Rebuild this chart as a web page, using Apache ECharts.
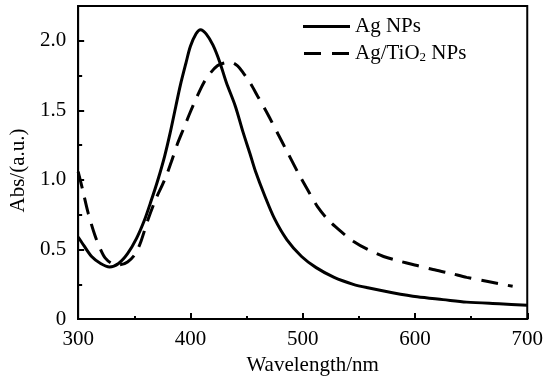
<!DOCTYPE html>
<html>
<head>
<meta charset="utf-8">
<script src="https://cdn.jsdelivr.net/npm/echarts@6/dist/echarts.min.js"></script>
<style>html,body{margin:0;padding:0;background:#fff;}#c{width:546px;height:381px;}</style>
</head>
<body>
<div id="c"></div>
<script>
const seriesNames = ['Ag NPs', 'Ag/TiO2 NPs'];
const agWavelength = [300,305,312,320,328,336,344,352,359,365,371,377,382,387,391,396,400,405,409,414,420,426,432,440,447,453,458,466,475,486,499,512,528,545,558,580,602,625,646,675,700];
const agAbs = [0.59,0.53,0.45,0.40,0.375,0.40,0.47,0.58,0.71,0.85,1.00,1.17,1.34,1.53,1.68,1.84,1.96,2.05,2.08,2.05,1.97,1.85,1.70,1.53,1.34,1.19,1.06,0.89,0.72,0.57,0.45,0.37,0.30,0.25,0.225,0.19,0.16,0.14,0.122,0.11,0.10];
const agTiWavelength = [300,304,309,315,320,324,330,337,344,351,356,362,369,377,383,388,394,400,406,412,418,424,430,436,442,447,453,460,469,478,487,496,505,513,523,534,545,558,572,587,602,616,631,646,665,687];
const agTiAbs = [1.06,0.93,0.76,0.60,0.50,0.44,0.40,0.39,0.41,0.47,0.56,0.71,0.86,1.00,1.13,1.25,1.37,1.49,1.60,1.70,1.77,1.82,1.84,1.845,1.82,1.77,1.70,1.60,1.47,1.33,1.19,1.05,0.92,0.81,0.71,0.63,0.56,0.50,0.45,0.415,0.385,0.356,0.33,0.30,0.27,0.236];
const xTicks = [300, 400, 500, 600, 700];
const yTicks = [0, 0.5, 1.0, 1.5, 2.0];
const xName = 'Wavelength/nm';
const yName = 'Abs/(a.u.)';

const FONT = 'Liberation Serif';
const zip = (xs, ys) => xs.map((x, i) => [x, ys[i]]);

const chart = echarts.init(document.getElementById('c'), null, {renderer: 'canvas'});
chart.setOption({
  animation: false,
  backgroundColor: '#fff',
  textStyle: {fontFamily: FONT, color: '#000'},
  grid: {left: 75, right: 18, top: 6, bottom: 61.5, show: true, borderColor: '#000', borderWidth: 2, backgroundColor: 'transparent'},
  legend: {
    orient: 'vertical', left: 303, top: 16, padding: 0, itemWidth: 47, itemHeight: 3, itemGap: 5.5,
    data: [
      {name: seriesNames[0], icon: 'path://M0,0H47V3H0Z'},
      {name: seriesNames[1], icon: 'path://M0,0H17V3H0ZM28,0H45V3H28Z'}
    ],
    itemStyle: {color: '#000', borderWidth: 0},
    formatter: function (n) {
      if (n === 'Ag/TiO2 NPs') return '{n|Ag/TiO}{s|2}{n| NPs}';
      return '{n|' + n + '}';
    },
    textStyle: {
      fontFamily: FONT, color: '#000', fontSize: 21,
      rich: {
        n: {fontFamily: FONT, fontSize: 21, color: '#000', lineHeight: 22},
        s: {fontFamily: FONT, fontSize: 13, color: '#000', lineHeight: 22, padding: [9, 0, 0, 0]}
      }
    }
  },
  xAxis: {
    type: 'value', min: xTicks[0], max: xTicks[xTicks.length - 1], interval: 100,
    name: xName, nameLocation: 'middle', nameGap: 31,
    nameTextStyle: {fontFamily: FONT, fontSize: 21, color: '#000', padding: [0, 0, 0, 20]},
    axisLine: {onZero: false, lineStyle: {color: '#000', width: 2}},
    axisTick: {inside: true, length: 6, lineStyle: {color: '#000', width: 2}},
    minorTick: {show: true, splitNumber: 2, length: 3, lineStyle: {color: '#000', width: 2}},
    splitLine: {show: false},
    axisLabel: {fontFamily: FONT, fontSize: 21, color: '#000', margin: 10}
  },
  yAxis: [{
    type: 'value', min: 0, max: 2.25, interval: 0.5,
    name: yName, nameLocation: 'middle', nameGap: 46,
    nameTextStyle: {fontFamily: FONT, fontSize: 21, color: '#000', padding: [0, 16, 0, 0]},
    axisLine: {onZero: false, lineStyle: {color: '#000', width: 2}},
    axisTick: {inside: true, length: 6, lineStyle: {color: '#000', width: 2}},
    splitLine: {show: false},
    axisLabel: {
      fontFamily: FONT, fontSize: 21, color: '#000', margin: 12, showMaxLabel: false,
      formatter: function (v) { return yTicks.indexOf(v) < 0 ? '' : (v === 0 ? '0' : v.toFixed(1)); }
    }
  }, {
    type: 'value', min: 0, max: 2.25, interval: 0.25, position: 'left',
    axisLine: {show: false},
    axisTick: {inside: true, length: 4, lineStyle: {color: '#000', width: 2}},
    axisLabel: {show: false},
    splitLine: {show: false}
  }],
  series: [{
    name: seriesNames[0], type: 'line', yAxisIndex: 0, data: zip(agWavelength, agAbs),
    showSymbol: false, symbol: 'none', smooth: 0.3,
    lineStyle: {color: '#000', width: 3}, itemStyle: {color: '#000'}
  }, {
    name: seriesNames[1], type: 'line', yAxisIndex: 0, data: zip(agTiWavelength, agTiAbs),
    showSymbol: false, symbol: 'none', smooth: 0.3,
    lineStyle: {color: '#000', width: 3, type: [17, 10], cap: 'butt'}, itemStyle: {color: '#000'}
  }]
});
</script>
</body>
</html>
